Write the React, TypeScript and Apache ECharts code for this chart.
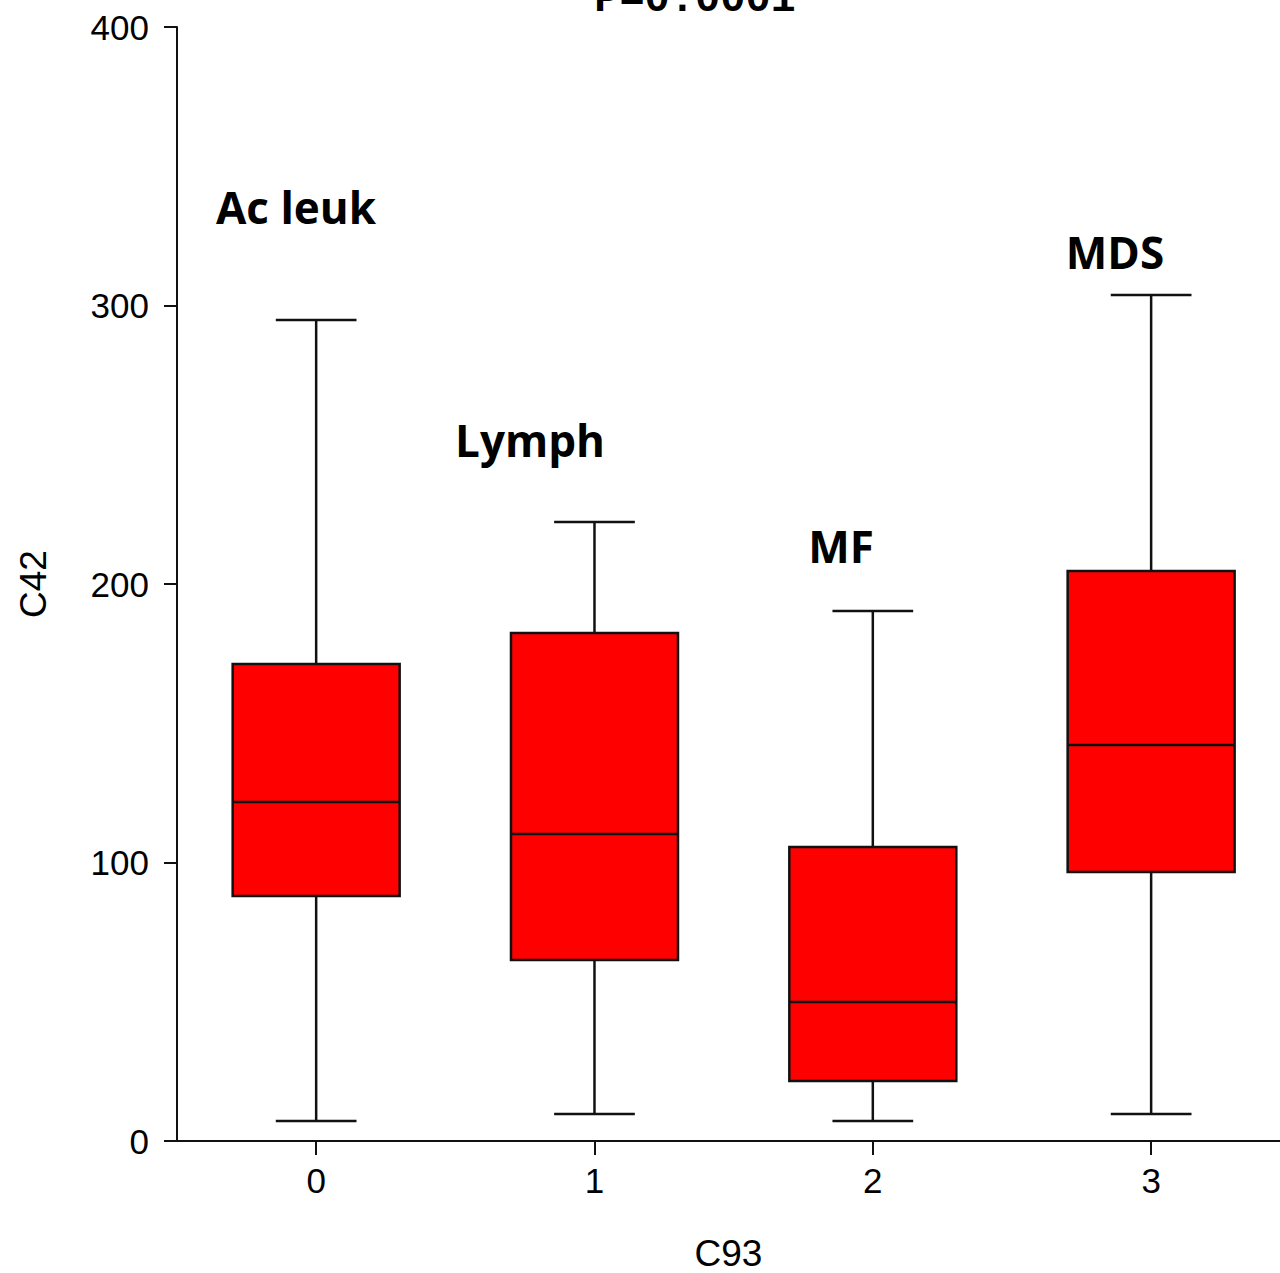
import React, { useEffect, useRef } from "react";
import * as echarts from "echarts";

const categories = ["0", "1", "2", "3"];
const categoryPositions = [0, 1, 2, 3];
const groupNames = ["Ac leuk", "Lymph", "MF", "MDS"];
const whiskerLow = [7.2, 9.7, 7.2, 9.7];
const q1Values = [88.0, 65.0, 21.5, 96.6];
const medianValues = [121.7, 110.2, 49.9, 142.2];
const q3Values = [171.3, 182.4, 105.6, 204.7];
const whiskerHigh = [294.8, 222.3, 190.3, 303.8];
const yTicks = [0, 100, 200, 300, 400];
const pText = "P=0.0001";

export default function App() {
  const ref = useRef<HTMLDivElement>(null);
  useEffect(() => {
    if (!ref.current) return;
    const chart = echarts.init(ref.current, null, { renderer: "svg" });
    const data = categoryPositions.map((p, i) => [
      p,
      whiskerLow[i],
      q1Values[i],
      medianValues[i],
      q3Values[i],
      whiskerHigh[i],
    ]);
    const labelPos = [
      [296, 207],
      [530, 440],
      [841, 546],
      [1115, 252],
    ];
    const axisFont = "'Liberation Sans', Arial, sans-serif";
    chart.setOption({
      animation: false,
      backgroundColor: "#ffffff",
      grid: {
        left: 177,
        right: 0,
        top: 27,
        bottom: 132,
        containLabel: false,
        outerBoundsMode: "none",
      },
      xAxis: {
        type: "value",
        min: -0.5,
        max: 3.463,
        name: "C93",
        nameLocation: "middle",
        nameGap: 94,
        nameTextStyle: { fontFamily: axisFont, fontSize: 37, color: "#000", lineHeight: 37 },
        axisLine: { show: true, onZero: false, lineStyle: { color: "#111", width: 2 } },
        axisTick: {
          show: true,
          customValues: categoryPositions,
          length: 14,
          lineStyle: { color: "#111", width: 2 },
        },
        axisLabel: {
          customValues: categoryPositions,
          formatter: (v: number) => categories[Math.round(v)] ?? "",
          fontFamily: axisFont,
          fontSize: 35,
          color: "#000",
          margin: 22,
          showMinLabel: true,
          showMaxLabel: true,
        },
        splitLine: { show: false },
      },
      yAxis: {
        type: "value",
        min: yTicks[0],
        max: yTicks[yTicks.length - 1],
        interval: 100,
        name: "C42",
        nameLocation: "middle",
        nameGap: 125,
        nameTextStyle: { fontFamily: axisFont, fontSize: 37, color: "#000" },
        axisLine: { show: true, onZero: false, lineStyle: { color: "#111", width: 2 } },
        axisTick: { show: true, length: 13, lineStyle: { color: "#111", width: 2 } },
        axisLabel: { fontFamily: axisFont, fontSize: 35, color: "#000", margin: 28 },
        splitLine: { show: false },
      },
      series: [
        {
          type: "custom",
          data,
          encode: { x: 0, y: [1, 2, 3, 4, 5] },
          renderItem: (params: any, api: any) => {
            const x = api.value(0);
            const lo = api.coord([x, api.value(1)]);
            const q1 = api.coord([x, api.value(2)]);
            const med = api.coord([x, api.value(3)]);
            const q3 = api.coord([x, api.value(4)]);
            const hi = api.coord([x, api.value(5)]);
            const band = api.size([1, 0])[0];
            const bw = band * 0.6;
            const cw = band * 0.29;
            const cx = lo[0];
            const ls = { stroke: "#111", lineWidth: 2.5 };
            return {
              type: "group",
              children: [
                { type: "line", shape: { x1: cx, y1: q1[1], x2: cx, y2: lo[1] }, style: ls },
                { type: "line", shape: { x1: cx, y1: q3[1], x2: cx, y2: hi[1] }, style: ls },
                { type: "line", shape: { x1: cx - cw / 2, y1: lo[1], x2: cx + cw / 2, y2: lo[1] }, style: ls },
                { type: "line", shape: { x1: cx - cw / 2, y1: hi[1], x2: cx + cw / 2, y2: hi[1] }, style: ls },
                {
                  type: "rect",
                  shape: { x: cx - bw / 2, y: q3[1], width: bw, height: q1[1] - q3[1] },
                  style: { fill: "#ff0000", stroke: "#111", lineWidth: 2.5 },
                },
                { type: "line", shape: { x1: cx - bw / 2, y1: med[1], x2: cx + bw / 2, y2: med[1] }, style: ls },
              ],
            };
          },
        },
      ],
      graphic: [
        {
          type: "text",
          x: 695,
          y: 21,
          style: {
            text: pText,
            fontFamily: "'Liberation Mono', 'Courier New', monospace",
            fontWeight: "bold",
            fontSize: 42,
            fill: "#000",
            textAlign: "center",
            textVerticalAlign: "bottom",
          },
        },
        ...groupNames.map((name, i) => ({
          type: "text",
          x: labelPos[i][0],
          y: labelPos[i][1],
          style: {
            text: name,
            fontFamily: "'Open Sans', Lato, sans-serif",
            fontWeight: "bold",
            fontSize: 44,
            fill: "#000",
            textAlign: "center",
            textVerticalAlign: "middle",
          },
        })),
      ],
    });
    return () => chart.dispose();
  }, []);
  return (
    <div
      ref={ref}
      style={{ position: "absolute", left: 0, top: 0, width: 1280, height: 1273 }}
    />
  );
}
